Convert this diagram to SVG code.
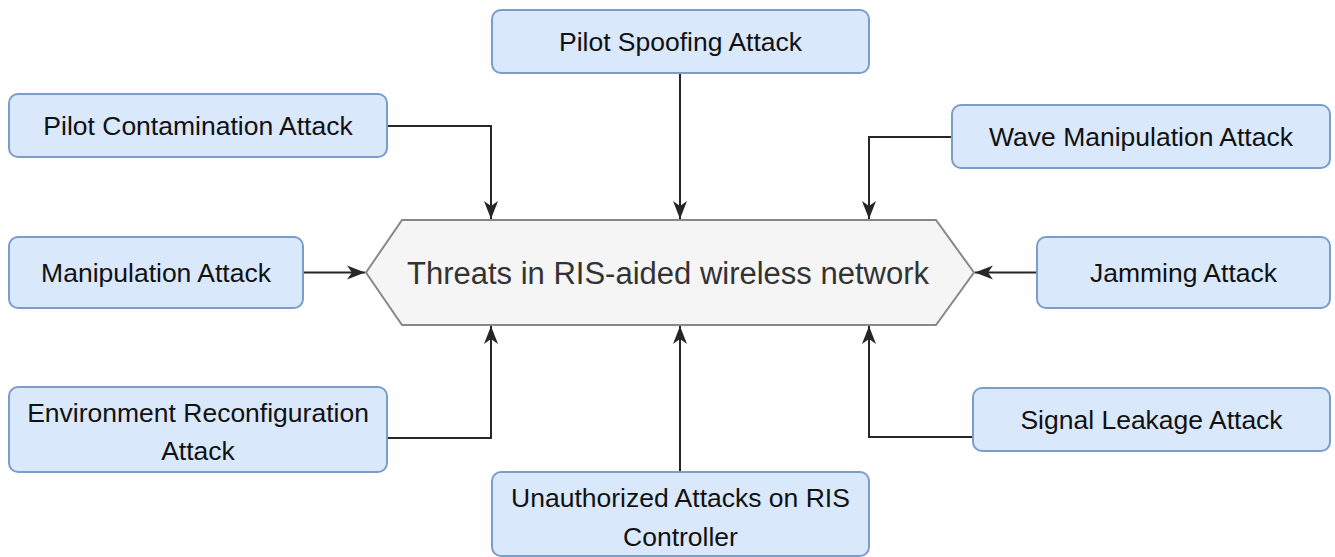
<svg xmlns="http://www.w3.org/2000/svg" width="1335" height="557" viewBox="0 0 1335 557">
  <style>
    .box { fill: #dae8fc; stroke: #7c9cc9; stroke-width: 2; }
    .lbl { font-family: "Liberation Sans", Arial, sans-serif; font-size: 26.5px; fill: #111111; text-anchor: middle; }
    .hub { fill: #f5f5f5; stroke: #888888; stroke-width: 2; }
    .hub-lbl { font-family: "Liberation Sans", Arial, sans-serif; font-size: 31px; fill: #333333; text-anchor: middle; }
    .edge { fill: none; stroke: #262626; stroke-width: 2; marker-end: url(#arrow); }
  </style>
  <defs>
    <marker id="arrow" viewBox="0 0 18 16" refX="18" refY="8" markerWidth="18" markerHeight="16" markerUnits="userSpaceOnUse" orient="auto">
      <path d="M0,1 L18,8 L0,15 L5,8 Z" fill="#262626"/>
    </marker>
  </defs>

  <rect width="1335" height="557" fill="#ffffff"/>

  <!-- connectors -->
  <g id="connectors">
    <path class="edge" d="M387,126 H491 V219"/>
    <path class="edge" d="M680,73 V219"/>
    <path class="edge" d="M952,137 H869 V219"/>
    <path class="edge" d="M303,272.5 H365"/>
    <path class="edge" d="M1037,272.5 H975"/>
    <path class="edge" d="M387,438 H491 V326"/>
    <path class="edge" d="M680,472 V326"/>
    <path class="edge" d="M973,437 H869 V326"/>
  </g>

  <!-- central hub -->
  <g id="hub">
    <polygon class="hub" points="366,272.5 402,220 936,220 974,272.5 936,325 402,325"/>
    <text class="hub-lbl" x="668" y="283.5">Threats in RIS-aided wireless network</text>
  </g>

  <!-- attack nodes -->
  <g id="pilot-spoofing">
    <rect class="box" x="492" y="10" width="377" height="63" rx="9"/>
    <text class="lbl" x="680.5" y="51">Pilot Spoofing Attack</text>
  </g>
  <g id="pilot-contamination">
    <rect class="box" x="9" y="94" width="378" height="63" rx="9"/>
    <text class="lbl" x="198" y="135">Pilot Contamination Attack</text>
  </g>
  <g id="wave-manipulation">
    <rect class="box" x="952" y="105" width="378" height="63" rx="9"/>
    <text class="lbl" x="1141" y="146">Wave Manipulation Attack</text>
  </g>
  <g id="manipulation">
    <rect class="box" x="9" y="237" width="294" height="71" rx="9"/>
    <text class="lbl" x="156" y="282">Manipulation Attack</text>
  </g>
  <g id="jamming">
    <rect class="box" x="1037" y="237" width="293" height="71" rx="9"/>
    <text class="lbl" x="1183.5" y="282">Jamming Attack</text>
  </g>
  <g id="environment-reconfiguration">
    <rect class="box" x="9" y="387" width="378" height="85" rx="9"/>
    <text class="lbl" x="198" y="422">Environment Reconfiguration</text>
    <text class="lbl" x="198" y="460">Attack</text>
  </g>
  <g id="signal-leakage">
    <rect class="box" x="973" y="388" width="357" height="63" rx="9"/>
    <text class="lbl" x="1151.5" y="429">Signal Leakage Attack</text>
  </g>
  <g id="unauthorized-controller">
    <rect class="box" x="492" y="472" width="377" height="84" rx="9"/>
    <text class="lbl" x="680.5" y="507">Unauthorized Attacks on RIS</text>
    <text class="lbl" x="680.5" y="546">Controller</text>
  </g>
</svg>
